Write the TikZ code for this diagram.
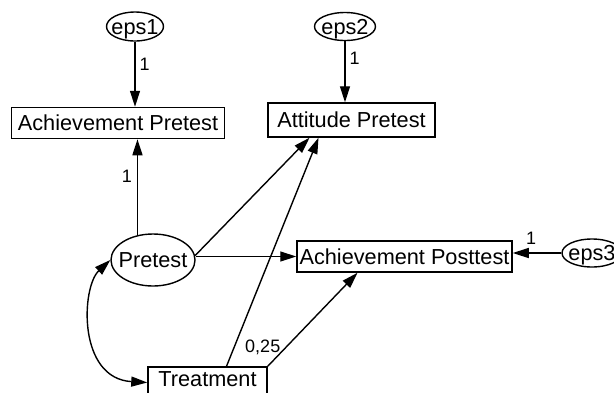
\documentclass[tikz,border=0pt]{standalone}
\usepackage{fontspec}
\setmainfont{Liberation Sans}
\usetikzlibrary{arrows.meta,shapes.geometric,calc}
% text centred on its cap height, taking no room of its own
\newcommand\ctrtext[1]{\makebox[0pt]{\raisebox{-0.358em}[0pt][0pt]{#1}}}
\begin{document}
\begin{tikzpicture}[x=1pt,y=-1pt,
  obs/.style={draw,line width=1.5pt,rectangle,inner sep=0pt,minimum height=31pt,
    font=\fontsize{21.7}{26}\selectfont},
  lat/.style={draw,line width=1.4pt,ellipse,inner sep=0pt,
    font=\fontsize{21.7}{26}\selectfont},
  regr/.style={line width=1.4pt,-{Triangle[length=16pt,width=10pt]}},
  cov/.style={line width=1.4pt,{Triangle[length=16pt,width=10pt]}-{Triangle[length=16pt,width=10pt]}},
  coef/.style={font=\fontsize{18}{22}\selectfont,inner sep=2pt}]
\fill[white] (0,0) rectangle (614,392);
\useasboundingbox (0,0) rectangle (614,392);

% observed variables
\node[obs,minimum width=213pt] (ap) at (118,123) {Achievement Pretest};
\node[obs,minimum width=167pt,minimum height=34pt] (att) at (351.5,120) {Attitude Pretest};
\node[obs,minimum width=215pt] (post) at (404.5,256.5) {Achievement Posttest};
\node[obs,minimum width=119pt,text depth=6pt] (tr) at (207.5,382.5) {Treatment};

% latent variable and error terms
\node[lat,minimum width=84pt,minimum height=52pt] (pre) at (153,260) {\ctrtext{Pretest}};
\node[lat,minimum width=57pt,minimum height=29pt] (e1) at (135,26.5) {\ctrtext{eps1}};
\node[lat,minimum width=61pt,minimum height=28pt] (e2) at (345,26.5) {\ctrtext{eps2}};
\node[lat,minimum width=60pt,minimum height=28pt] (e3) at (592,253) {\ctrtext{eps3}};

% error paths
\draw[regr] (e1.south) -- (e1.south |- ap.north) node[coef,pos=0.34,right,xshift=2pt]{1};
\draw[regr] (e2.south) -- (e2.south |- att.north) node[coef,pos=0.28,right,xshift=2pt]{1};
\draw[regr] (e3.west) -- (e3.west -| post.east) node[coef,pos=0.62,above,yshift=6pt]{1};

% structural paths
\draw[regr] (pre.122) -- (pre.122 |- ap.south) node[coef,pos=0.61,left,xshift=-3pt]{1};
\draw[regr] (pre.6) -- ($(att.south)+(-42,0)$);
\draw[regr] (pre.east |- post.west) -- (post.west);
\draw[regr] ($(tr.north)+(19,0)$) -- ($(att.south)+(-33,0)$);
\draw[regr] (tr.north east) -- ($(post.south)+(-47,0)$);

% covariance
\draw[cov] (pre.west) .. controls +(-29,27) and +(-70,-4) .. (tr.west);

% variance of Treatment
\node[coef] (vtr) at ($(tr.north east)+(-5,-19)$) {0,25};
\end{tikzpicture}
\end{document}
